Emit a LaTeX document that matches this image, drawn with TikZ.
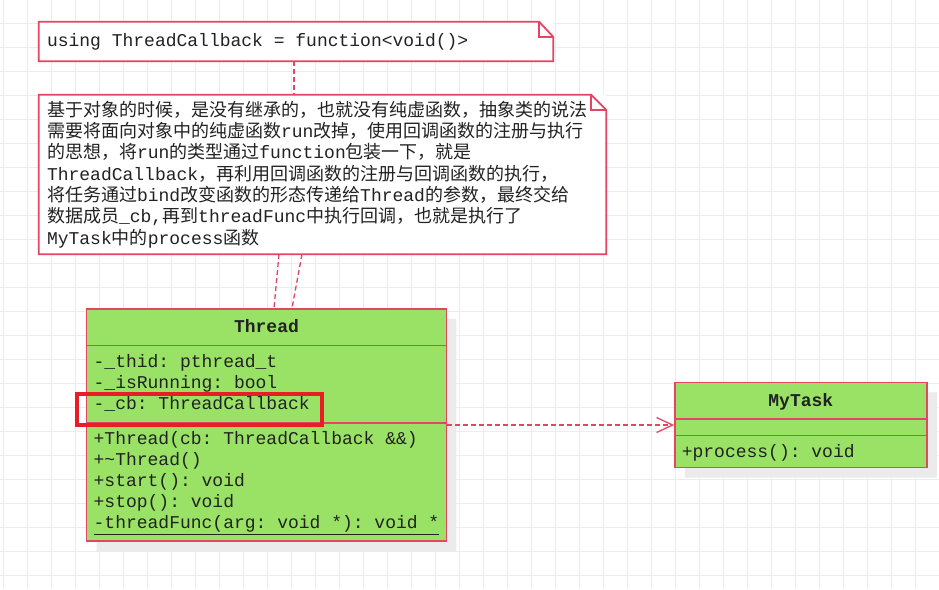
\documentclass[tikz,border=0pt]{standalone}
\usepackage{fontspec}
\setmonofont{Liberation Mono}
\newfontfamily\cjk{Noto Sans CJK SC}
\usetikzlibrary{positioning, shapes.multipart, shadows, arrows.meta}

\definecolor{noteRed}{RGB}{229,68,98}
\definecolor{umlGreen}{RGB}{153,226,101}
\definecolor{markRed}{RGB}{232,30,38}
\definecolor{gridGray}{RGB}{236,236,236}
\definecolor{shadowGray}{RGB}{235,235,235}
\definecolor{textDark}{RGB}{34,34,34}

\newcommand\notefont{\ttfamily\fontsize{18pt}{21.3pt}\selectfont}
\newcommand\msp{\hspace{10.8pt}}
% struts for the rows of the class boxes
\newcommand\headrow{\rule[-6.5pt]{0pt}{24pt}}
\newcommand\firstrow{\rule{0pt}{15.5pt}}
\newcommand\lastrow{\rule[-7.5pt]{0pt}{7.5pt}}
\newcommand\closerow{\rule[-4pt]{0pt}{4pt}}

\begin{document}
\begin{tikzpicture}[x=1pt, y=-1pt,
gridline/.style={draw=gridGray, line width=1pt},
notebox/.style={fill=white, draw=none, inner xsep=8pt, inner ysep=0pt, align=left, text=textDark, font=\notefont},
noteline/.style={draw=noteRed, line width=1.8pt, line join=miter},
notelink/.style={draw=noteRed, line width=1.3pt, dash pattern=on 5pt off 3pt},
classbox/.style={rectangle split, rectangle split parts=3, rectangle split part align={center,left,left}, rectangle split empty part height=4pt, rectangle split empty part depth=0pt, draw=noteRed, line width=1.5pt, fill=umlGreen, inner xsep=7pt, inner ysep=5.5pt, align=left, text=textDark, font=\ttfamily\fontsize{18pt}{21pt}\selectfont, drop shadow={shadow xshift=10pt, shadow yshift=-10pt, fill=shadowGray, opacity=1}},
depends/.style={draw=noteRed, line width=1.3pt, dash pattern=on 5pt off 3pt, -{Straight Barb[length=16pt, width=15pt]}},
cbmark/.style={rectangle, draw=markRed, line width=3.5pt, minimum width=245pt, minimum height=31pt},
]
\useasboundingbox (0,0) rectangle (939,589);
\fill[white] (0,0) rectangle (939,589);

%Grid
\foreach \gx in {3,27,...,939} \draw[gridline] (\gx,0) -- (\gx,589);
\foreach \gy in {23,47,...,589} \draw[gridline] (0,\gy) -- (939,\gy);

%Notes
\node[notebox, text width=498pt, minimum height=39pt] (noteUsing) at (296,41.5) {using\msp ThreadCallback\msp=\msp function<void()>};
\node[notebox, text width=551pt, minimum height=159pt] (noteIdea) at (322.5,174.5)
{{\cjk 基于对象的时候，是没有继承的，也就没有纯虚函数，抽象类的说法}\\
{\cjk 需要将面向对象中的纯虚函数}run{\cjk 改掉，使用回调函数的注册与执行}\\
{\cjk 的思想，将}run{\cjk 的类型通过}function{\cjk 包装一下，就是}\\
ThreadCallback{\cjk ，再利用回调函数的注册与回调函数的执行，}\\
{\cjk 将任务通过}bind{\cjk 改变函数的形态传递给}Thread{\cjk 的参数，最终交给}\\
{\cjk 数据成员}\_cb,{\cjk 再到}threadFunc{\cjk 中执行回调，也就是执行了}\\
MyTask{\cjk 中的}process{\cjk 函数}};

\draw[noteline] (noteUsing.north west) -- ([xshift=-14pt]noteUsing.north east) -- ([yshift=-15pt]noteUsing.north east) -- (noteUsing.south east) -- (noteUsing.south west) -- cycle;
\draw[noteline] ([xshift=-14pt]noteUsing.north east) |- ([yshift=-15pt]noteUsing.north east);
\draw[noteline] (noteIdea.north west) -- ([xshift=-15pt]noteIdea.north east) -- ([yshift=-15pt]noteIdea.north east) -- (noteIdea.south east) -- (noteIdea.south west) -- cycle;
\draw[noteline] ([xshift=-15pt]noteIdea.north east) |- ([yshift=-15pt]noteIdea.north east);

%Classes
\node[classbox, minimum width=359pt] (Thread) at (266.5,425)
{\headrow\textbf{Thread}
\nodepart{second}\firstrow-\_thid: pthread\_t\\\strut-\_isRunning: bool\\\strut-\_cb: ThreadCallback\lastrow
\nodepart{third}\firstrow+Thread(cb: ThreadCallback \&\&)\\\strut+\textasciitilde Thread()\\\strut+start(): void\\\strut+stop(): void\\\strut\underline{-threadFunc(arg: void *): void *}\closerow};
\node[classbox, minimum width=252pt] (MyTask) [right=227pt of Thread]
{\headrow\textbf{MyTask}
\nodepart{second}
\nodepart{third}\firstrow+process(): void\closerow};

%Lines
\draw[notelink] ([xshift=-2pt]noteUsing.south) -- ([xshift=-2pt]noteUsing.south |- noteIdea.north);
\draw[notelink] ([xshift=-43.5pt]noteIdea.south) -- ([xshift=7.5pt]Thread.north);
\draw[notelink] ([xshift=-20.5pt]noteIdea.south) -- ([xshift=25.5pt]Thread.north);
\draw[depends] (Thread.east) -- (MyTask.west);

%Mark
\node[cbmark] (cbMark) at (199.5,409.5) {};
\end{tikzpicture}
\end{document}
